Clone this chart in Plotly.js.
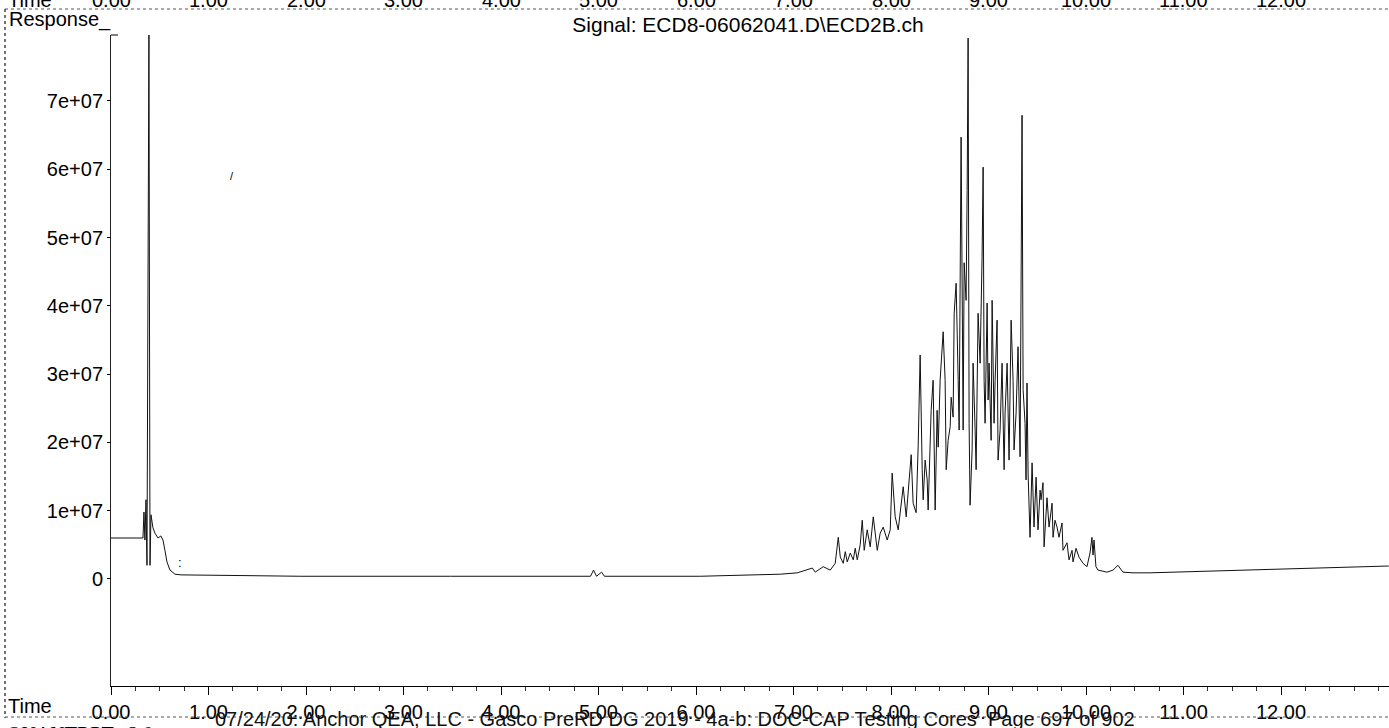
<!DOCTYPE html>
<html>
<head>
<meta charset="utf-8">
<script src="https://cdn.plot.ly/plotly-3.0.1.min.js"></script>
<style>
  html, body { margin: 0; padding: 0; background: #fff; }
  #chart { width: 1389px; height: 728px; }
</style>
</head>
<body>
<div id="chart"></div>
<script>
// ---- Data (time in minutes, response in millions) ----
var timeMin = [
  0.000, 0.328, 0.338, 0.348, 0.359, 0.369, 0.389, 0.400, 0.410, 0.430,
  0.451, 0.482, 0.512, 0.533, 0.553, 0.574, 0.605, 0.656, 0.717, 1.947,
  3.484, 4.918, 4.949, 4.980, 5.031, 5.061, 6.045, 6.660, 6.865, 7.039,
  7.121, 7.193, 7.223, 7.305, 7.377, 7.428, 7.459, 7.480, 7.510, 7.531,
  7.551, 7.582, 7.613, 7.633, 7.654, 7.684, 7.705, 7.725, 7.756, 7.787,
  7.818, 7.859, 7.889, 7.920, 7.961, 7.992, 8.012, 8.043, 8.074, 8.105,
  8.125, 8.156, 8.176, 8.207, 8.227, 8.258, 8.279, 8.299, 8.320, 8.330,
  8.350, 8.371, 8.381, 8.402, 8.412, 8.432, 8.453, 8.473, 8.484, 8.504,
  8.535, 8.555, 8.566, 8.586, 8.607, 8.617, 8.637, 8.648, 8.668, 8.689,
  8.699, 8.719, 8.730, 8.740, 8.750, 8.770, 8.781, 8.791, 8.801, 8.811,
  8.832, 8.842, 8.863, 8.873, 8.893, 8.914, 8.934, 8.945, 8.955, 8.965,
  8.986, 8.996, 9.006, 9.027, 9.037, 9.057, 9.068, 9.088, 9.098, 9.119,
  9.139, 9.160, 9.170, 9.191, 9.211, 9.232, 9.252, 9.262, 9.283, 9.303,
  9.324, 9.334, 9.344, 9.355, 9.375, 9.385, 9.395, 9.406, 9.416, 9.426,
  9.447, 9.457, 9.467, 9.488, 9.508, 9.529, 9.539, 9.559, 9.570, 9.600,
  9.621, 9.652, 9.662, 9.682, 9.703, 9.723, 9.754, 9.764, 9.805, 9.826,
  9.857, 9.867, 9.898, 9.928, 9.969, 10.010, 10.041, 10.061, 10.072, 10.082,
  10.102, 10.123, 10.215, 10.277, 10.328, 10.379, 10.482, 10.656, 11.680, 13.105
];
var responseM = [
  6.0, 6.0, 9.8, 5.7, 11.6, 2.0, 80.1, 2.0, 9.4, 7.5,
  6.7, 6.0, 6.3, 5.7, 4.2, 2.5, 1.3, 0.7, 0.6, 0.4,
  0.4, 0.4, 1.3, 0.4, 1.0, 0.4, 0.4, 0.6, 0.7, 0.9,
  1.3, 1.6, 1.0, 1.8, 1.3, 2.3, 6.1, 3.2, 2.3, 4.0,
  2.5, 3.8, 2.8, 4.5, 2.8, 5.0, 8.6, 4.2, 7.2, 4.7,
  9.1, 4.2, 6.7, 7.6, 5.7, 7.2, 15.5, 9.1, 7.2, 10.8,
  13.5, 9.1, 12.6, 18.2, 11.1, 9.7, 19.6, 32.8, 16.0, 11.6,
  17.4, 14.5, 10.1, 20.3, 24.7, 29.1, 10.1, 24.7, 19.3, 29.1,
  36.2, 29.1, 16.0, 20.3, 22.3, 26.6, 23.7, 38.9, 43.3, 29.1,
  21.8, 64.7, 35.0, 21.8, 46.3, 40.8, 56.9, 79.2, 22.8, 10.8,
  18.9, 31.6, 21.8, 16.0, 38.9, 31.6, 47.1, 60.3, 29.1, 22.8,
  40.4, 26.2, 31.6, 20.3, 40.8, 22.8, 29.1, 37.9, 17.4, 21.8,
  31.6, 16.0, 24.3, 31.6, 17.4, 37.9, 29.1, 18.9, 24.3, 34.0,
  17.9, 40.8, 67.9, 27.7, 22.8, 14.5, 28.7, 15.5, 11.1, 6.1,
  17.0, 13.5, 7.6, 14.9, 7.2, 13.0, 11.6, 14.1, 4.7, 11.9,
  7.6, 11.1, 6.1, 8.6, 7.6, 6.1, 8.2, 4.2, 5.3, 2.8,
  4.2, 2.5, 4.5, 3.2, 2.3, 1.8, 3.8, 6.1, 3.5, 5.7,
  1.8, 1.3, 1.0, 1.3, 2.0, 1.0, 0.9, 0.9, 1.3, 1.9
];
var xTickVals = [0,1,2,3,4,5,6,7,8,9,10,11,12];
var xTickText = ["0.00","1.00","2.00","3.00","4.00","5.00","6.00","7.00","8.00","9.00","10.00","11.00","12.00"];
var yTickVals = [0, 1e7, 2e7, 3e7, 4e7, 5e7, 6e7, 7e7];
var yTickText = ["0","1e+07","2e+07","3e+07","4e+07","5e+07","6e+07","7e+07"];
var titleText = "Signal: ECD8-06062041.D\\ECD2B.ch";
var footerText = "07/24/20: Anchor QEA, LLC - Gasco PreRD DG 2019 - 4a-b: DOC-CAP Testing Cores  Page 697 of 902";

// ---- Layout geometry (pixels) ----
var W = 1389, H = 728;
var M = {l: 111, r: 0, t: 35, b: 42};
var PW = W - M.l - M.r, PH = H - M.t - M.b;
function px(x) { return (x - M.l) / PW; }          // page x -> paper x
function py(y) { return (H - M.b - y) / PH; }      // page y -> paper y

var FONT = "'Liberation Sans', Arial, Helvetica, sans-serif";

var trace = {
  x: timeMin,
  y: responseM.map(function (v) { return v * 1e6; }),
  type: "scatter",
  mode: "lines",
  line: {color: "#111", width: 1},
  hoverinfo: "skip"
};

var annotations = [
  {text: "Response_", xref: "paper", yref: "paper", x: px(7), y: py(20), xanchor: "left", yanchor: "middle", showarrow: false, font: {family: FONT, size: 20, color: "#000"}},
  {text: "Time", xref: "paper", yref: "paper", x: px(6), y: py(706), xanchor: "left", yanchor: "middle", showarrow: false, font: {family: FONT, size: 20, color: "#000"}},
  {text: "Time", xref: "paper", yref: "paper", x: px(6), y: py(0), xanchor: "left", yanchor: "middle", showarrow: false, font: {family: FONT, size: 20, color: "#000"}},
  {text: footerText, xref: "paper", yref: "paper", x: px(675), y: py(719), xanchor: "center", yanchor: "middle", showarrow: false, font: {family: FONT, size: 20, color: "#111"}},
  {text: "QUANTRPT   2.0", xref: "paper", yref: "paper", x: px(5), y: py(734), xanchor: "left", yanchor: "middle", showarrow: false, font: {family: "'Liberation Serif', 'DejaVu Serif', serif", size: 20, color: "#000"}},
  {text: ":", xref: "paper", yref: "paper", x: px(180), y: py(562), xanchor: "center", yanchor: "middle", showarrow: false, font: {family: FONT, size: 13, color: "#000"}},
  {text: "/", xref: "paper", yref: "paper", x: px(232), y: py(176), xanchor: "center", yanchor: "middle", showarrow: false, font: {family: FONT, size: 11, color: "#000"}}
];
// cut-off time labels of the previous page strip at the very top
xTickVals.forEach(function (v, i) {
  annotations.push({text: xTickText[i], xref: "x", yref: "paper", x: v, y: py(0), xanchor: "center", yanchor: "middle", showarrow: false, font: {family: FONT, size: 20, color: "#000"}});
});

var shapes = [
  {type: "line", xref: "paper", yref: "paper", x0: px(5), x1: 1, y0: py(9), y1: py(9), line: {color: "#555", width: 1, dash: "dot"}},
  {type: "line", xref: "paper", yref: "paper", x0: px(5), x1: px(5), y0: py(9), y1: py(718), line: {color: "#444", width: 1.5, dash: "dot"}},
  {type: "line", xref: "paper", yref: "paper", x0: px(5), x1: 1, y0: py(717), y1: py(717), line: {color: "#555", width: 1, dash: "dot"}},
  {type: "line", xref: "paper", yref: "paper", x0: 0, x1: px(118), y0: 1, y1: 1, line: {color: "#000", width: 1}}
];

var layout = {
  width: W, height: H,
  margin: M,
  paper_bgcolor: "#fff", plot_bgcolor: "#fff",
  showlegend: false,
  title: {text: titleText, x: 748 / W, xanchor: "center", y: 1 - 25 / H, yanchor: "middle", font: {family: FONT, size: 21, color: "#000"}},
  xaxis: {
    range: [0, (W - M.l - M.r) / 97.5],
    tickvals: xTickVals, ticktext: xTickText,
    ticks: "outside", ticklen: 8, tickwidth: 1, tickcolor: "#000",
    minor: {dtick: 0.25, ticks: "outside", ticklen: 4, tickcolor: "#333", showgrid: false},
    showline: true, linecolor: "#000", linewidth: 1,
    showgrid: false, zeroline: false,
    tickfont: {family: FONT, size: 20, color: "#000"}
  },
  yaxis: {
    range: [-1.567e7, 7.965e7],
    tickvals: yTickVals, ticktext: yTickText,
    ticks: "outside", ticklen: 3, tickcolor: "#000",
    showline: true, linecolor: "#222", linewidth: 1,
    showgrid: false, zeroline: false,
    tickfont: {family: FONT, size: 20, color: "#000"}
  },
  annotations: annotations,
  shapes: shapes
};

Plotly.newPlot("chart", [trace], layout, {staticPlot: true, displayModeBar: false});
</script>
</body>
</html>
